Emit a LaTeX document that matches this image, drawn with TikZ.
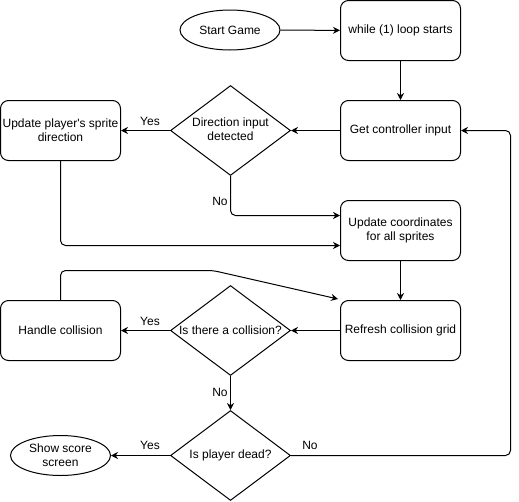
\documentclass[tikz,border=0pt]{standalone}
\usepackage{fontspec}
\setmainfont{Liberation Sans}
\usetikzlibrary{arrows.meta, positioning, shapes.geometric}

\begin{document}
\begin{tikzpicture}[
      x=1pt, y=-1pt,
      font=\fontsize{12}{14}\selectfont,
      box/.style={draw, line width=1pt, rounded corners=8pt, minimum width=120pt,
                  minimum height=60pt, inner sep=2pt, align=center},
      decision/.style={draw, line width=1pt, diamond, minimum width=120pt,
                       minimum height=90pt, inner sep=0pt},
      term/.style={draw, line width=1pt, ellipse, minimum width=100pt,
                   minimum height=40pt, inner sep=0pt, align=center},
      flow/.style={draw, line width=1pt, rounded corners=5pt,
                   -{Stealth[length=7pt, width=7pt]}},
      lbl/.style={inner sep=0pt},
    ]
    \useasboundingbox (0,0) rectangle (519,501);

    % right column
    \node[term] (start) at (230,30) {Start Game};
    \node[box] (loop) at (400.5,30.5) {while (1) loop starts};
    \node[box] (getin) at (400.5,130.5) {Get controller input};
    \node[box] (coords) at (400.5,230.5) {Update coordinates\\for all sprites};
    \node[box] (refresh) at (400.5,330.5) {Refresh collision grid};

    % decisions
    \node[decision] (dir) at (230.5,130.5)
      {\makebox[0pt]{\begin{tabular}{@{}c@{}}Direction input\\detected\end{tabular}}};
    \node[decision] (coll) at (230.5,330.5) {\makebox[0pt]{Is there a collision?}};
    \node[decision] (dead) at (230.5,455.5) {\makebox[0pt]{Is player dead?}};

    % left column
    \node[box] (sprite) at (60.5,130.5) {Update player\textquotesingle s sprite\\direction};
    \node[box] (handle) at (60.5,330.5) {Handle collision};
    \node[term] (score) at (60.5,455.5) {Show score\\screen};

    % waypoints
    \coordinate (bend) at (213,270.5);
    \coordinate (loopback) at (510.5,455.5);

    % connectors
    \draw[flow] (start) -- (loop);
    \draw[flow] (loop) -- (getin);
    \draw[flow] (getin) -- (dir);
    \draw[flow] (dir) -- (sprite);
    \draw[flow] (dir.south) |- ([yshift=15pt]coords.west);
    \draw[flow] (sprite.south) |- ([yshift=-15pt]coords.west);
    \draw[flow] (coords) -- (refresh);
    \draw[flow] (refresh) -- (coll);
    \draw[flow] (coll) -- (handle);
    \draw[flow] (handle.north) |- (bend) -- ([xshift=-2pt,yshift=1pt]refresh.north west);
    \draw[flow] (coll) -- (dead);
    \draw[flow] (dead) -- (score);
    \draw[flow] (dead.east) -- (loopback) |- (getin.east);

    % edge labels
    \node[lbl] (dirYes) at (150,121) {Yes};
    \node[lbl] (dirNo) at (220,201) {No};
    \node[lbl] (collYes) at (150,321) {Yes};
    \node[lbl] (collNo) at (220,392) {No};
    \node[lbl] (deadYes) at (150,445) {Yes};
    \node[lbl] (deadNo) at (310,445) {No};
  \end{tikzpicture}
\end{document}
